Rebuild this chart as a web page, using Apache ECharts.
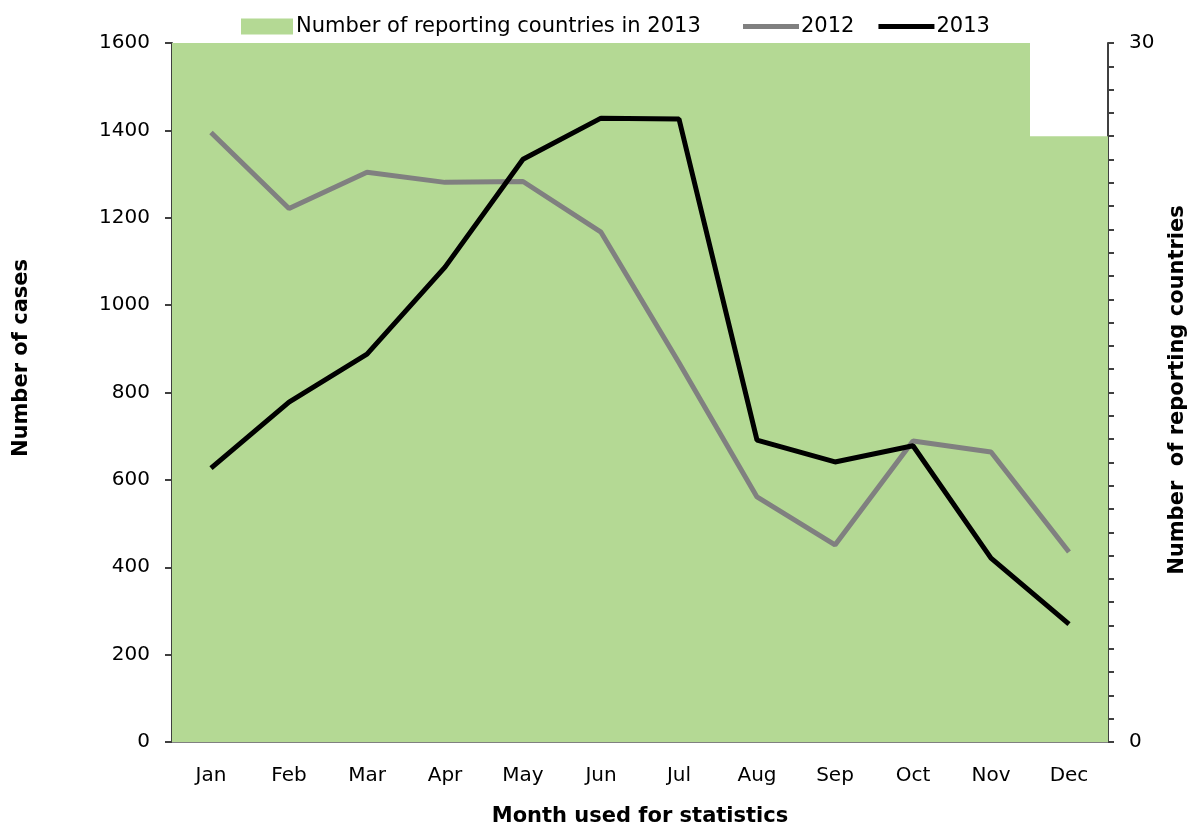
<!DOCTYPE html>
<html>
<head>
<meta charset="utf-8">
<script src="https://cdn.jsdelivr.net/npm/echarts@6/dist/echarts.min.js"></script>
<style>
  html, body { margin: 0; padding: 0; background: #fff; }
  #chart { width: 1191px; height: 827px; }
</style>
</head>
<body>
<div id="chart"></div>
<script>
var months = ['Jan', 'Feb', 'Mar', 'Apr', 'May', 'Jun', 'Jul', 'Aug', 'Sep', 'Oct', 'Nov', 'Dec'];
// 报告国家数 (右轴)
var countries2013 = [30, 30, 30, 30, 30, 30, 30, 30, 30, 30, 30, 26];
// 病例数 (左轴)
var cases2012 = [1395, 1221, 1304, 1281, 1283, 1167, 868, 561, 451, 689, 664, 435];
var cases2013 = [627, 778, 888, 1087, 1334, 1428, 1426, 691, 641, 678, 421, 270];

var fontMain = '"DejaVu Sans", Verdana, sans-serif';

var chart = echarts.init(document.getElementById('chart'));
var option = {
  animation: false,
  grid: {
    left: 172,
    right: 83,
    top: 43,
    bottom: 85
  },
  legend: [{
    left: 236,
    top: 11,
    icon: 'rect',
    itemWidth: 52,
    itemHeight: 16,
    textStyle: {
      fontFamily: fontMain,
      fontSize: 21,
      color: '#000',
      padding: [0, 0, 0, -2]
    },
    data: ['Number of reporting countries in 2013']
  }, {
    left: 738,
    top: 11,
    icon: 'rect',
    itemWidth: 56,
    itemHeight: 5,
    itemGap: 24,
    textStyle: {
      fontFamily: fontMain,
      fontSize: 21,
      color: '#000',
      padding: [0, 0, 0, -3]
    },
    data: ['2012', '2013']
  }],
  xAxis: {
    type: 'category',
    data: months,
    axisLine: { lineStyle: { color: '#808080', width: 2 } },
    axisTick: { show: false },
    axisLabel: {
      fontFamily: fontMain,
      fontSize: 20,
      color: '#000',
      margin: 24
    }
  },
  yAxis: [{
    type: 'value',
    min: 0,
    max: 1600,
    interval: 200,
    splitLine: { show: false },
    axisLine: { show: true, lineStyle: { color: '#404040', width: 2 } },
    axisTick: { show: true, length: 7, lineStyle: { color: '#404040', width: 2 } },
    axisLabel: {
      fontFamily: fontMain,
      fontSize: 20,
      color: '#000',
      margin: 22,
      formatter: function (v) { return String(v); }
    }
  }, {
    type: 'value',
    min: 0,
    max: 30,
    interval: 1,
    splitLine: { show: false },
    axisLine: { show: true, lineStyle: { color: '#404040', width: 2 } },
    axisTick: { show: true, length: 6, lineStyle: { color: '#404040', width: 2 } },
    axisLabel: {
      fontFamily: fontMain,
      fontSize: 20,
      color: '#000',
      margin: 21,
      formatter: function (v) {
        return (v === 0 || v === 30) ? String(v) : '';
      }
    }
  }],
  graphic: [{
    type: 'text',
    x: 640,
    y: 817,
    style: {
      text: 'Month used for statistics',
      font: 'bold 21px ' + fontMain,
      fill: '#000',
      align: 'center',
      verticalAlign: 'middle'
    }
  }, {
    type: 'text',
    x: 22,
    y: 358,
    rotation: Math.PI / 2,
    style: {
      text: 'Number of cases',
      font: 'bold 21px ' + fontMain,
      fill: '#000',
      align: 'center',
      verticalAlign: 'middle'
    }
  }, {
    type: 'text',
    x: 1178,
    y: 390,
    rotation: Math.PI / 2,
    style: {
      text: 'Number  of reporting countries',
      font: 'bold 21px ' + fontMain,
      fill: '#000',
      align: 'center',
      verticalAlign: 'middle'
    }
  }],
  series: [{
    name: 'Number of reporting countries in 2013',
    type: 'bar',
    yAxisIndex: 1,
    barCategoryGap: 0,
    itemStyle: { color: '#b4d994' },
    data: countries2013
  }, {
    name: '2012',
    type: 'line',
    symbol: 'none',
    lineStyle: { color: '#808080', width: 5 },
    itemStyle: { color: '#808080' },
    data: cases2012
  }, {
    name: '2013',
    type: 'line',
    symbol: 'none',
    lineStyle: { color: '#000', width: 5 },
    itemStyle: { color: '#000' },
    data: cases2013
  }]
};
chart.setOption(option);
</script>
</body>
</html>
